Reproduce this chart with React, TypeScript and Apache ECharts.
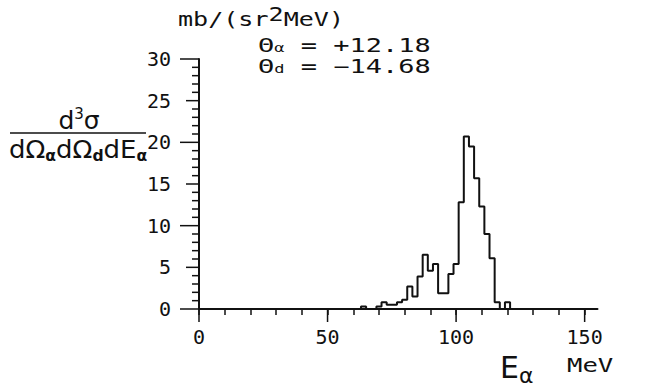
import React, { useEffect, useRef } from "react";
import * as echarts from "echarts";

// Histogram bins (2 MeV wide), centers in MeV and cross-section values
const binCenters = [62, 64, 66, 68, 70, 72, 74, 76, 78, 80, 82, 84, 86, 88, 90, 92, 94, 96, 98, 100, 102, 104, 106, 108, 110, 112, 114, 116, 118, 120, 122];
const counts = [0, 0.3, 0, 0, 0.3, 0.8, 0.5, 0.5, 0.8, 1.1, 2.7, 1.5, 3.9, 6.5, 4.6, 5.4, 1.9, 1.9, 4.2, 5.4, 12.8, 20.7, 19.5, 15.7, 12.3, 9.0, 6.1, 0.8, 0, 0.8, 0];

const xMajorTicks = [0, 50, 100, 150];
const xMinorTicks = [0, 10, 20, 30, 40, 50, 60, 70, 80, 90, 100, 110, 120, 130, 140, 150];
const yTicks = [0, 1, 2, 3, 4, 5, 6, 7, 8, 9, 10, 11, 12, 13, 14, 15, 16, 17, 18, 19, 20, 21, 22, 23, 24, 25, 26, 27, 28, 29, 30];
const xMin = 0;
const xMax = 155;
const yMin = 0;
const yMax = 30;

const unitText = "{a|mb/(sr}{s|2}{a|MeV)}";
const thetaAlpha = "{a|Θ}{s|α}{a| = +12.18}";
const thetaD = "{a|Θ}{s|d}{a| = −14.68}";

export default function App() {
  const ref = useRef<HTMLDivElement>(null);
  useEffect(() => {
    const chart = echarts.init(ref.current!, null, { renderer: "svg" });
    const mono = "DejaVu Sans Mono";
    const sans = "DejaVu Sans";
    const ink = "#111111";
    const line = { color: ink, width: 2 };
    chart.setOption({
      animation: false,
      backgroundColor: "#ffffff",
      grid: { left: 199, top: 59, width: 398.5, height: 250 },
      xAxis: {
        type: "value", min: xMin, max: xMax, position: "bottom",
        axisLine: { show: true, onZero: false, lineStyle: line },
        axisTick: { show: true, customValues: xMinorTicks, length: 6, lineStyle: { color: ink, width: 1.5 } },
        axisLabel: { customValues: xMajorTicks, margin: 18, fontFamily: mono, fontSize: 20, color: ink },
        splitLine: { show: false },
      },
      yAxis: {
        type: "value", min: yMin, max: yMax, interval: 5, position: "left",
        axisLine: { show: true, onZero: false, lineStyle: line },
        axisTick: { show: false },
        axisLabel: { margin: 28, fontFamily: mono, fontSize: 20, color: ink },
        splitLine: { show: false },
      },
      series: [
        {
          type: "line",
          step: "middle",
          symbol: "none",
          data: binCenters.map((c, i) => [c, counts[i]]),
          lineStyle: { color: ink, width: 2 },
          z: 3,
        },
        {
          type: "custom",
          silent: true,
          clip: false,
          data: yTicks.map((v) => [0, v]),
          encode: { x: 0, y: 1 },
          renderItem: (_params: any, api: any) => {
            const v = api.value(1);
            const p = api.coord([0, v]);
            const len = v % 10 === 0 ? 19 : v % 5 === 0 ? 13 : 7;
            return {
              type: "line",
              shape: { x1: p[0] - len, y1: p[1], x2: p[0], y2: p[1] },
              style: { stroke: ink, lineWidth: 1.5 },
            };
          },
        },
        {
          type: "custom",
          silent: true,
          clip: false,
          data: xMajorTicks.map((v) => [v, 0]),
          encode: { x: 0, y: 1 },
          renderItem: (_params: any, api: any) => {
            const p = api.coord([api.value(0), 0]);
            return {
              type: "line",
              shape: { x1: p[0], y1: p[1], x2: p[0], y2: p[1] + 13 },
              style: { stroke: ink, lineWidth: 1.5 },
            };
          },
        },
      ],
      graphic: [
        {
          type: "text", x: 178, y: 19, scaleX: 1.32,
          style: {
            text: unitText, verticalAlign: "middle", fill: ink,
            rich: {
              a: { fontFamily: mono, fontSize: 19, color: ink },
              s: { fontFamily: mono, fontSize: 19, color: ink, padding: [0, 0, 10, 0] },
            },
          },
        },
        {
          type: "text", x: 258, y: 45, scaleX: 1.42,
          style: {
            text: thetaAlpha, verticalAlign: "middle", fill: ink,
            rich: {
              a: { fontFamily: mono, fontSize: 19, color: ink },
              s: { fontFamily: mono, fontSize: 12, color: ink, padding: [6, 0, 0, 0] },
            },
          },
        },
        {
          type: "text", x: 258, y: 66, scaleX: 1.42,
          style: {
            text: thetaD, verticalAlign: "middle", fill: ink,
            rich: {
              a: { fontFamily: mono, fontSize: 19, color: ink },
              s: { fontFamily: mono, fontSize: 12, color: ink, padding: [6, 0, 0, 0] },
            },
          },
        },
        {
          type: "text", x: 79, y: 120,
          style: {
            text: "{a|d}{s|3}{a|σ}", align: "center", verticalAlign: "middle", fill: ink,
            rich: {
              a: { fontFamily: sans, fontSize: 25, color: ink },
              s: { fontFamily: sans, fontSize: 15, color: ink, padding: [0, 0, 12, 0] },
            },
          },
        },
        {
          type: "line",
          shape: { x1: 10, y1: 133, x2: 146, y2: 133 },
          style: { stroke: ink, lineWidth: 1.5 },
        },
        {
          type: "text", x: 9, y: 149, scaleX: 1.04,
          style: {
            text: "{a|dΩ}{s|α}{a|dΩ}{s|d}{a|dE}{s|α}", verticalAlign: "middle", fill: ink,
            rich: {
              a: { fontFamily: sans, fontSize: 25, color: ink },
              s: { fontFamily: sans, fontSize: 15, fontWeight: "bold", color: ink, padding: [14, 0, 0, 0] },
            },
          },
        },
        {
          type: "text", x: 500, y: 367,
          style: {
            text: "{a|E}{s|α}", verticalAlign: "middle", fill: ink,
            rich: {
              a: { fontFamily: sans, fontSize: 30, color: ink },
              s: { fontFamily: sans, fontSize: 22, color: ink, padding: [16, 0, 0, 0] },
            },
          },
        },
        {
          type: "text", x: 567, y: 365, scaleX: 1.35,
          style: { text: "MeV", verticalAlign: "middle", fill: ink, fontFamily: mono, fontSize: 19 },
        },
      ],
    });
    return () => chart.dispose();
  }, []);
  return <div ref={ref} style={{ position: "fixed", left: 0, top: 0, width: 656, height: 387 }} />;
}
